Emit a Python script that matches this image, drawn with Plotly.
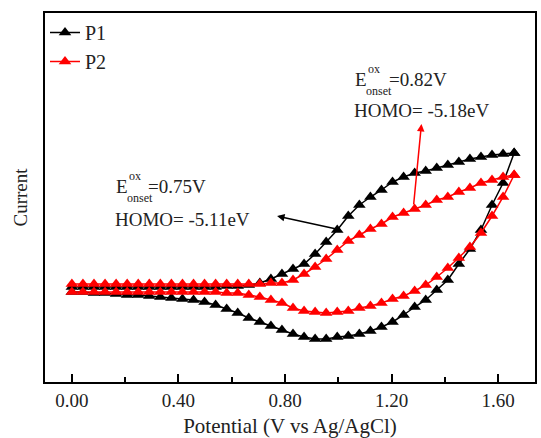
import plotly.graph_objects as go

potential = [round(0.0415 * k, 4) for k in range(41)]

# Current (arbitrary units, height above the x axis)
p1_forward = [95, 95, 95, 95, 95, 95, 95, 95, 95, 95, 95, 95, 95, 95, 96, 96, 97, 99, 103, 108,
              113, 118, 128, 140, 152, 166, 177, 185, 192, 200, 205, 209, 211, 214, 217, 220, 223, 225, 227, 228, 229]
p1_reverse = [90, 90, 89, 89, 88, 87, 87, 86, 85, 84, 83, 82, 80, 77, 73, 69, 64, 60, 56, 52,
              48, 45, 43, 43, 45, 46, 48, 51, 55, 60, 67, 75, 82, 92, 102, 118, 133, 152, 177, 199, 229]
p2_forward = [98, 98, 98, 98, 98, 98, 98, 98, 98, 98, 98, 98, 98, 98, 98, 98, 98, 98, 99, 99,
              102, 108, 115, 123, 132, 141, 147, 153, 158, 165, 169, 173, 177, 182, 185, 190, 194, 199, 202, 205, 207]
p2_reverse = [90, 90, 90, 90, 90, 90, 90, 90, 90, 90, 90, 90, 90, 90, 89, 89, 87, 85, 82, 79,
              74, 71, 70, 69, 70, 71, 74, 76, 79, 83, 86, 91, 97, 105, 114, 124, 135, 149, 166, 185, 207]

series_names = ["P1", "P2"]
series_colors = ["black", "red"]
x_ticks = [0.0, 0.4, 0.8, 1.2, 1.6]
x_tick_labels = ["0.00", "0.40", "0.80", "1.20", "1.60"]

FONT = "Liberation Serif"

fig = go.Figure()
for name, color, fwd, rev in [(series_names[0], series_colors[0], p1_forward, p1_reverse),
                              (series_names[1], series_colors[1], p2_forward, p2_reverse)]:
    xs = potential + potential[::-1]
    ys = fwd + rev[::-1]
    fig.add_trace(go.Scatter(
        x=xs, y=ys, name=name, mode="lines+markers",
        line=dict(color=color, width=1.5),
        marker=dict(symbol="triangle-up", size=11, color=color),
    ))

# pixel -> data helpers (plot area: x 45..537, y 13..382)
def dx(px):
    return (px - 72) / 267.5

def dy(py):
    return 382 - py

annotations = []

def txt(text, px, py, size=19):
    annotations.append(dict(x=dx(px), y=dy(py), xref="x", yref="y", text=text, showarrow=False,
                            xanchor="left", yanchor="middle",
                            font=dict(family=FONT, size=size, color="#222")))

# annotation 1 (P1)
txt("E", 114, 186)
txt("ox", 127, 176, 12)
txt("onset", 125, 198, 12)
txt("=0.75V", 146, 186)
txt("HOMO= -5.11eV", 113, 219)
# annotation 2 (P2)
txt("E", 354, 79)
txt("ox", 367, 69, 12)
txt("onset", 365, 91, 12)
txt("=0.82V", 388, 79)
txt("HOMO= -5.18eV", 353, 110)

# arrows
annotations.append(dict(x=dx(278), y=dy(216), ax=dx(338), ay=dy(229), xref="x", yref="y",
                        axref="x", ayref="y", showarrow=True, arrowhead=2, arrowsize=1,
                        arrowwidth=1.5, arrowcolor="black", text=""))
annotations.append(dict(x=dx(423), y=dy(124), ax=dx(415), ay=dy(206), xref="x", yref="y",
                        axref="x", ayref="y", showarrow=True, arrowhead=2, arrowsize=1,
                        arrowwidth=1.5, arrowcolor="red", text=""))

fig.update_layout(
    width=541, height=438,
    margin=dict(l=45, r=4, t=13, b=56),
    paper_bgcolor="white", plot_bgcolor="white",
    font=dict(family=FONT, size=19, color="#222"),
    showlegend=True,
    legend=dict(x=0, y=1, xanchor="left", yanchor="top", bgcolor="rgba(0,0,0,0)",
                font=dict(family=FONT, size=20, color="#222"), tracegroupgap=0,
                itemwidth=30),
    annotations=annotations,
    xaxis=dict(range=[dx(45), dx(537)], tickvals=x_ticks, ticktext=x_tick_labels,
               ticks="inside", ticklen=8, tickwidth=2, tickcolor="black",
               minor=dict(tickvals=[0.2, 0.6, 1.0, 1.4], ticks="inside", ticklen=5, tickwidth=2,
                          tickcolor="black"),
               showline=True, linecolor="black", linewidth=2, mirror=True,
               showgrid=False, zeroline=False,
               tickfont=dict(family=FONT, size=19, color="#222"),
               title=dict(text="Potential (V vs Ag/AgCl)", standoff=9,
                          font=dict(family=FONT, size=21, color="#222"))),
    yaxis=dict(range=[0, 369], showticklabels=False, ticks="",
               showline=True, linecolor="black", linewidth=2, mirror=True,
               showgrid=False, zeroline=False,
               title=dict(text="Current", standoff=10,
                          font=dict(family=FONT, size=19, color="#222"))),
)

fig.write_html("out.html")
